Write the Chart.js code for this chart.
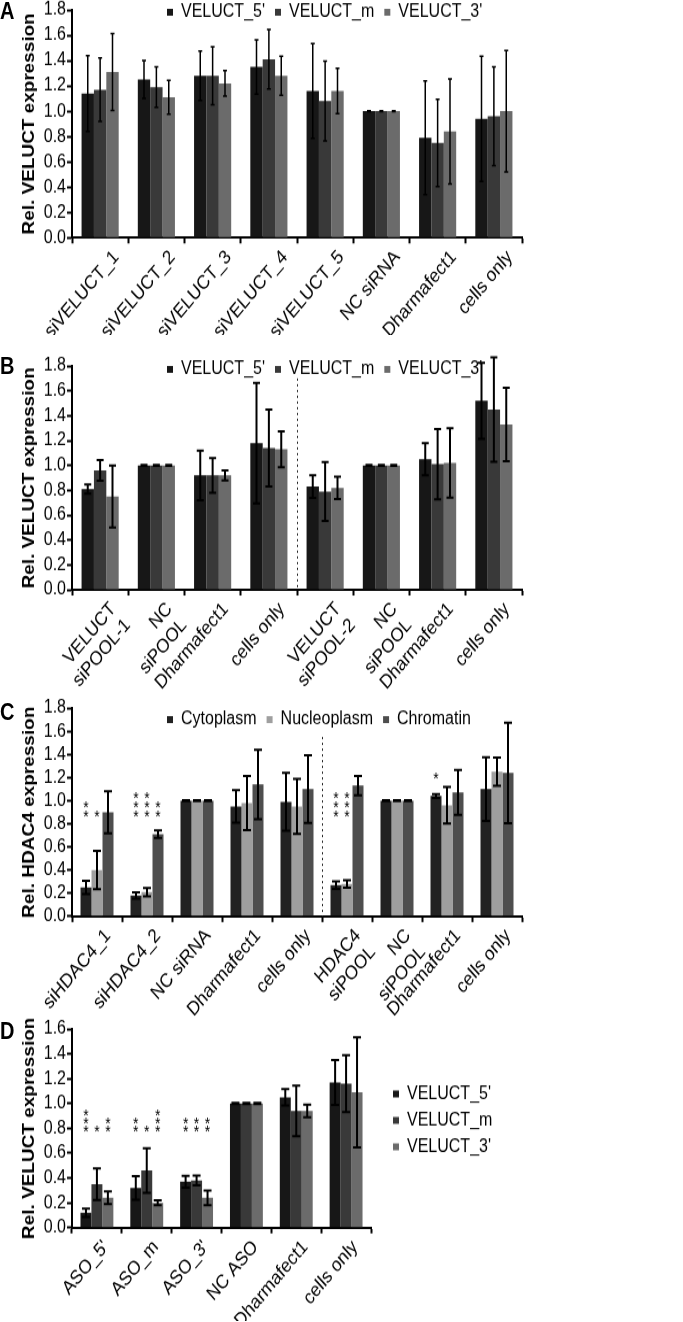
<!DOCTYPE html>
<html>
<head>
<meta charset="utf-8">
<title>VELUCT / HDAC4 knockdown</title>
<script src="https://cdn.jsdelivr.net/npm/chart.js@4.4.1/dist/chart.umd.min.js"></script>
<style>
  body { margin: 0; background: #fff; }
  #figure { position: relative; width: 683px; height: 1322px; overflow: hidden; }
  #figure canvas { position: absolute; left: 0; }
  .tag { position: absolute; left: 0; font: bold 20px/20px "Liberation Sans", Arial, sans-serif; color: #000;
         transform: scaleY(1.15); transform-origin: 0 0; }
</style>
</head>
<body>
<div id="figure">
  <canvas id="chartA"></canvas>
  <canvas id="chartB"></canvas>
  <canvas id="chartC"></canvas>
  <canvas id="chartD"></canvas>
  <div class="tag" style="top:-1px">A</div>
  <div class="tag" style="top:354px">B</div>
  <div class="tag" style="top:700px">C</div>
  <div class="tag" style="top:1019px">D</div>
</div>
<script>
// ---- Panel A: single siRNAs ----
const aLabels = ['siVELUCT_1', 'siVELUCT_2', 'siVELUCT_3', 'siVELUCT_4', 'siVELUCT_5', 'NC siRNA', 'Dharmafect1', 'cells only'];
const aVal5 = [1.14, 1.25, 1.28, 1.35, 1.16, 1.00, 0.79, 0.94];
const aErr5 = [0.30, 0.15, 0.195, 0.215, 0.375, 0.004, 0.45, 0.495];
const aValM = [1.17, 1.19, 1.28, 1.41, 1.08, 1.00, 0.75, 0.96];
const aErrM = [0.25, 0.16, 0.23, 0.235, 0.315, 0.004, 0.345, 0.39];
const aVal3 = [1.31, 1.11, 1.22, 1.28, 1.16, 1.00, 0.84, 1.00];
const aErr3 = [0.305, 0.135, 0.10, 0.155, 0.18, 0.004, 0.415, 0.48];

// ---- Panel B: siPOOLs ----
const bLabels = [['VELUCT', 'siPOOL-1'], ['NC', 'siPOOL'], 'Dharmafect1', 'cells only',
                 ['VELUCT', 'siPOOL-2'], ['NC', 'siPOOL'], 'Dharmafect1', 'cells only'];
const bVal5 = [0.81, 1.00, 0.92, 1.18, 0.83, 1.00, 1.05, 1.52];
const bErr5 = [0.036, 0.004, 0.20, 0.485, 0.091, 0.004, 0.13, 0.306];
const bValM = [0.96, 1.00, 0.92, 1.14, 0.79, 1.00, 1.01, 1.45];
const bErrM = [0.083, 0.004, 0.14, 0.31, 0.237, 0.004, 0.282, 0.42];
const bVal3 = [0.75, 1.00, 0.92, 1.13, 0.82, 1.00, 1.02, 1.33];
const bErr3 = [0.25, 0.004, 0.04, 0.145, 0.09, 0.004, 0.28, 0.295];

// ---- Panel C: HDAC4 by fraction ----
const cLabels = ['siHDAC4_1', 'siHDAC4_2', 'NC siRNA', 'Dharmafect1', 'cells only',
                 ['HDAC4', 'siPOOL'], ['NC', 'siPOOL'], 'Dharmafect1', 'cells only'];
const cCyto = [0.25, 0.18, 1.00, 0.95, 0.99, 0.27, 1.00, 1.04, 1.10];
const cCytoErr = [0.056, 0.028, 0.004, 0.14, 0.25, 0.033, 0.004, 0.016, 0.275];
const cNucl = [0.40, 0.21, 1.00, 0.98, 0.95, 0.28, 1.00, 0.96, 1.25];
const cNuclErr = [0.165, 0.036, 0.004, 0.234, 0.238, 0.032, 0.004, 0.158, 0.121];
const cChro = [0.90, 0.71, 1.00, 1.14, 1.10, 1.13, 1.00, 1.07, 1.24];
const cChroErr = [0.182, 0.033, 0.004, 0.30, 0.293, 0.083, 0.004, 0.194, 0.434];
const cCytoStars = [2, 3, 0, 0, 0, 3, 0, 1, 0];
const cNuclStars = [1, 3, 0, 0, 0, 3, 0, 0, 0];
const cChroStars = [0, 2, 0, 0, 0, 0, 0, 0, 0];
const cStarBase = [0.89, 0.89, 0, 0, 0, 0.89, 0, 1.22, 0];

// ---- Panel D: ASOs ----
const dLabels = ["ASO_5'", 'ASO_m', "ASO_3'", 'NC ASO', 'Dharmafect1', 'cells only'];
const dVal5 = [0.12, 0.32, 0.37, 1.00, 1.05, 1.17];
const dErr5 = [0.033, 0.094, 0.048, 0.004, 0.065, 0.181];
const dValM = [0.35, 0.46, 0.38, 1.00, 0.94, 1.16];
const dErrM = [0.128, 0.179, 0.04, 0.004, 0.204, 0.229];
const dVal3 = [0.24, 0.20, 0.24, 1.00, 0.94, 1.09];
const dErr3 = [0.051, 0.02, 0.059, 0.004, 0.05, 0.443];
const dStars5 = [3, 2, 2, 0, 0, 0];
const dStarsM = [1, 1, 2, 0, 0, 0];
const dStars3 = [2, 3, 2, 0, 0, 0];
const dStarBase = [0.80, 0.80, 0.80, 0, 0, 0];

const GREYS = ['#171717', '#393939', '#6b6b6b'];
const FRACTION_GREYS = ['#222222', '#9f9f9f', '#4e4e4e'];

// the source figure is a little taller than wide, so canvases get stretched vertically
const STRETCH = 1.15;
const PAD_TOP = 20;

Chart.defaults.font.family = '"Liberation Sans", Arial, sans-serif';
Chart.defaults.color = '#000';
Chart.defaults.animation = false;

/**
 * Size a canvas and place it on the page.
 * top/bottom are page y of the axis max and of zero, returns plot height in canvas px.
 */
function placeCanvas(id, box) {
    const canvas = document.getElementById(id);
    canvas.width = box.width;
    canvas.height = box.height;
    canvas.style.top = (box.top - PAD_TOP * STRETCH) + 'px';
    canvas.style.width = box.width + 'px';
    canvas.style.height = (box.height * STRETCH) + 'px';
    return (box.bottom - box.top) / STRETCH;
}

// lets the legend sit on top of the plot area (or shifts it sideways)
const legendShift = {
    id: 'legendShift',
    beforeLayout(chart) {
        const lg = chart.legend;
        if (!lg || lg._shiftPatched) return;
        const fit = lg.fit;
        lg.fit = function () {
            fit.call(this);
            const o = this.chart.options.plugins.legendShift || {};
            if (o.overlay) this.height = 0;
            if (o.width) this.width = o.width;
        };
        lg._shiftPatched = true;
    },
    afterLayout(chart, args, opts) {
        const lg = chart.legend;
        if (!lg) return;
        const dx = opts.dx || 0, dy = opts.dy || 0;
        lg.left += dx;
        lg.right += dx;
        lg.top += dy;
        lg.bottom = opts.overlay ? lg.top + 40 : lg.bottom + dy;
    }
};

// SD error bars from dataset.errors
const errorBars = {
    id: 'errorBars',
    afterDatasetsDraw(chart, args, opts) {
        const { ctx } = chart;
        const y = chart.scales.y;
        const half = (opts.cap || 6) / 2;
        ctx.save();
        ctx.strokeStyle = '#000';
        ctx.lineWidth = opts.lineWidth || 2;
        chart.data.datasets.forEach((ds, i) => {
            chart.getDatasetMeta(i).data.forEach((bar, j) => {
                const v = ds.data[j], e = ds.errors[j];
                const top = y.getPixelForValue(v + e);
                const bot = y.getPixelForValue(v - e);
                ctx.beginPath();
                ctx.moveTo(bar.x, top); ctx.lineTo(bar.x, bot);
                ctx.moveTo(bar.x - half, top); ctx.lineTo(bar.x + half, top);
                ctx.moveTo(bar.x - half, bot); ctx.lineTo(bar.x + half, bot);
                ctx.stroke();
            });
        });
        ctx.restore();
    }
};

// significance asterisks, stacked upwards from a base value
const starMarks = {
    id: 'starMarks',
    afterDatasetsDraw(chart, args, opts) {
        if (!opts.base) return;
        const { ctx } = chart;
        const y = chart.scales.y;
        ctx.save();
        ctx.fillStyle = '#000';
        ctx.font = '14px "Liberation Sans", Arial, sans-serif';
        ctx.textAlign = 'center';
        ctx.textBaseline = 'alphabetic';
        chart.data.datasets.forEach((ds, i) => {
            if (!ds.stars) return;
            chart.getDatasetMeta(i).data.forEach((bar, j) => {
                const n = ds.stars[j];
                if (!n) return;
                const y0 = y.getPixelForValue(opts.base[j]) + 8;
                for (let k = 0; k < n; k++) {
                    ctx.fillText('*', bar.x, y0 - k * opts.step);
                }
            });
        });
        ctx.restore();
    }
};

// dotted separator between two groups of categories
const divider = {
    id: 'divider',
    afterDatasetsDraw(chart, args, opts) {
        if (opts.after == null) return;
        const { ctx } = chart;
        const { x, y } = chart.scales;
        const px = Math.round((x.getPixelForValue(opts.after) + x.getPixelForValue(opts.after + 1)) / 2) + 0.5;
        ctx.save();
        ctx.strokeStyle = '#222';
        ctx.lineWidth = 1;
        ctx.setLineDash([2, 3]);
        ctx.beginPath();
        ctx.moveTo(px, y.getPixelForValue(opts.from));
        ctx.lineTo(px, y.getPixelForValue(0));
        ctx.stroke();
        ctx.restore();
    }
};

function buildChart(canvasId, cfg) {
    const plotH = placeCanvas(canvasId, cfg.box);
    const ctx = document.getElementById(canvasId).getContext('2d');
    return new Chart(ctx, {
        type: 'bar',
        data: {
            labels: cfg.labels,
            datasets: cfg.series.map(s => ({
                label: s.label,
                data: s.data,
                errors: s.errors,
                stars: s.stars,
                backgroundColor: s.color,
                borderWidth: 0,
                categoryPercentage: 0.66,
                barPercentage: 1.0
            }))
        },
        options: {
            responsive: false,
            layout: { padding: { top: PAD_TOP, right: cfg.rightPad, bottom: 0, left: 0 } },
            scales: {
                x: {
                    grid: { offset: true, drawOnChartArea: false, tickLength: 5, tickWidth: 2, tickColor: '#000' },
                    border: { color: '#000', width: 2 },
                    ticks: {
                        autoSkip: false,
                        minRotation: 46,
                        maxRotation: 46,
                        labelOffset: cfg.labelOffset,
                        padding: 2,
                        color: '#000',
                        font: { size: 17 }
                    },
                    afterFit: s => { s.height = s.chart.height - PAD_TOP - plotH; }
                },
                y: {
                    min: 0,
                    max: cfg.yMax,
                    grid: { drawOnChartArea: false, tickLength: 5, tickWidth: 2, tickColor: '#000' },
                    border: { color: '#000', width: 2 },
                    ticks: {
                        stepSize: 0.2,
                        autoSkip: false,
                        padding: 1,
                        color: '#000',
                        font: { size: 16 },
                        callback: v => v.toFixed(1)
                    },
                    title: {
                        display: true,
                        text: cfg.yTitle,
                        color: '#000',
                        font: { size: 16.5, weight: 'bold' },
                        padding: { top: 20, bottom: 0 }
                    },
                    afterFit: s => { s.width = 72; }
                }
            },
            plugins: {
                legend: Object.assign({
                    labels: {
                        boxWidth: 6,
                        boxHeight: 6,
                        padding: cfg.legendPad,
                        color: '#000',
                        font: { size: 16 }
                    }
                }, cfg.legend),
                tooltip: { enabled: false },
                legendShift: cfg.legendShift,
                errorBars: { cap: cfg.cap, lineWidth: cfg.errWidth },
                starMarks: { base: cfg.starBase, step: cfg.starStep },
                divider: { after: cfg.dividerAfter, from: cfg.dividerFrom }
            }
        },
        plugins: [legendShift, errorBars, starMarks, divider]
    });
}

const topLegend = { position: 'top', align: 'start' };

buildChart('chartA', {
    box: { top: 10, bottom: 238, width: 540, height: 303 },
    labels: aLabels,
    series: [
        { label: "VELUCT_5'", data: aVal5, errors: aErr5, color: GREYS[0] },
        { label: 'VELUCT_m', data: aValM, errors: aErrM, color: GREYS[1] },
        { label: "VELUCT_3'", data: aVal3, errors: aErr3, color: GREYS[2] }
    ],
    yMax: 1.8,
    yTitle: 'Rel. VELUCT expression',
    labelOffset: 16,
    rightPad: 18,
    legend: topLegend,
    legendPad: 10,
    legendShift: { overlay: true, dx: 157, dy: -16 },
    cap: 4,
    errWidth: 1.5
});

buildChart('chartB', {
    box: { top: 365.7, bottom: 590, width: 540, height: 305 },
    labels: bLabels,
    series: [
        { label: "VELUCT_5'", data: bVal5, errors: bErr5, color: GREYS[0] },
        { label: 'VELUCT_m', data: bValM, errors: bErrM, color: GREYS[1] },
        { label: "VELUCT_3'", data: bVal3, errors: bErr3, color: GREYS[2] }
    ],
    yMax: 1.8,
    yTitle: 'Rel. VELUCT expression',
    labelOffset: 13,
    rightPad: 18,
    legend: topLegend,
    legendPad: 10,
    legendShift: { overlay: true, dx: 157, dy: -15 },
    cap: 7,
    errWidth: 2,
    dividerAfter: 3,
    dividerFrom: 1.7
});

buildChart('chartC', {
    box: { top: 708, bottom: 916, width: 540, height: 290 },
    labels: cLabels,
    series: [
        { label: 'Cytoplasm', data: cCyto, errors: cCytoErr, stars: cCytoStars, color: FRACTION_GREYS[0] },
        { label: 'Nucleoplasm', data: cNucl, errors: cNuclErr, stars: cNuclStars, color: FRACTION_GREYS[1] },
        { label: 'Chromatin', data: cChro, errors: cChroErr, stars: cChroStars, color: FRACTION_GREYS[2] }
    ],
    yMax: 1.8,
    yTitle: 'Rel. HDAC4 expression',
    labelOffset: 11,
    rightPad: 18,
    legend: topLegend,
    legendPad: 10,
    legendShift: { overlay: true, dx: 157, dy: -8 },
    cap: 8,
    errWidth: 2,
    starBase: cStarBase,
    starStep: 8,
    dividerAfter: 4,
    dividerFrom: 1.55
});

buildChart('chartD', {
    box: { top: 1029, bottom: 1227.7, width: 683, height: 274 },
    labels: dLabels,
    series: [
        { label: "VELUCT_5'", data: dVal5, errors: dErr5, stars: dStars5, color: GREYS[0] },
        { label: 'VELUCT_m', data: dValM, errors: dErrM, stars: dStarsM, color: GREYS[1] },
        { label: "VELUCT_3'", data: dVal3, errors: dErr3, stars: dStars3, color: GREYS[2] }
    ],
    yMax: 1.6,
    yTitle: 'Rel. VELUCT expression',
    labelOffset: 9,
    rightPad: 192,
    legend: { position: 'right', align: 'center', fullSize: false },
    legendPad: 7,
    legendShift: { width: 120, dx: 15, dy: -7 },
    cap: 8,
    errWidth: 2,
    starBase: dStarBase,
    starStep: 7
});
</script>
</body>
</html>
